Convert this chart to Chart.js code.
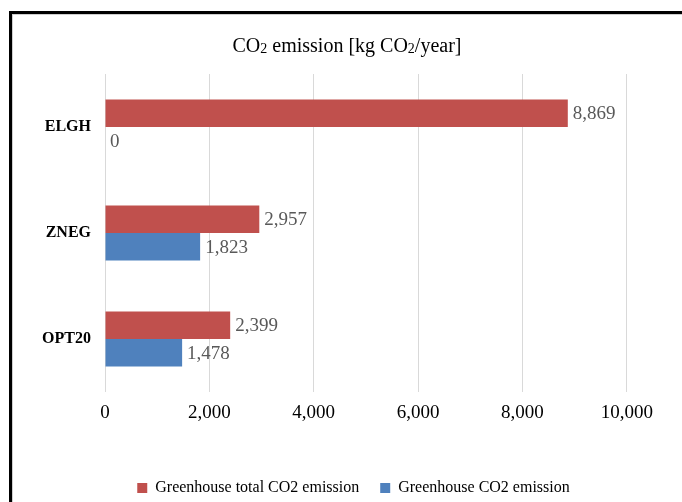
<!DOCTYPE html>
<html>
<head>
<meta charset="utf-8">
<script src="https://cdn.jsdelivr.net/npm/chart.js@4.4.1/dist/chart.umd.min.js"></script>
<style>
  html, body { margin: 0; padding: 0; background: #fff; }
  #wrap { position: relative; width: 682px; height: 502px; overflow: hidden; }
  #chart { position: absolute; left: 0; top: 0; }
  #frame {
    position: absolute; left: 9px; top: 11px; width: 700px; height: 520px;
    border-top: 3px solid #000; border-left: 3px solid #000;
    box-shadow: inset 1px 1px 0 #cfcfcf; pointer-events: none;
  }
</style>
</head>
<body>
<div id="wrap">
  <canvas id="chart" width="682" height="502"></canvas>
  <div id="frame"></div>
</div>
<script>
// categorias e series
var categorias = ['ELGH', 'ZNEG', 'OPT20'];
var totalCO2 = [8869, 2957, 2399];
var greenhouseCO2 = [0, 1823, 1478];
var nomesSeries = ['Greenhouse total CO2 emission', 'Greenhouse CO2 emission'];
var ticksX = [0, 2000, 4000, 6000, 8000, 10000];
// titulo em partes: [texto, subscrito?]
var tituloPartes = [['CO', false], ['2', true], [' emission [kg CO', false], ['2', true], ['/year]', false]];

var fonte = "'Liberation Serif', 'Times New Roman', serif";

// escreve o valor no fim de cada barra
var rotulos = {
  id: 'rotulos',
  afterDatasetsDraw: function (chart) {
    var ctx = chart.ctx;
    ctx.save();
    ctx.font = '19px ' + fonte;
    ctx.fillStyle = '#595959';
    ctx.textAlign = 'left';
    ctx.textBaseline = 'middle';
    chart.data.datasets.forEach(function (ds, i) {
      chart.getDatasetMeta(i).data.forEach(function (bar, j) {
        ctx.fillText(ds.data[j].toLocaleString('en-US'), bar.x + 5, bar.y + 1);
      });
    });
    ctx.restore();
  }
};

// titulo com o "2" menor, como no original
var titulo = {
  id: 'titulo',
  afterDraw: function (chart) {
    var ctx = chart.ctx;
    ctx.save();
    ctx.fillStyle = '#000';
    ctx.textBaseline = 'alphabetic';
    ctx.textAlign = 'left';
    var fNormal = '20px ' + fonte, fSub = '14px ' + fonte;
    var largura = 0;
    tituloPartes.forEach(function (p) {
      ctx.font = p[1] ? fSub : fNormal;
      largura += ctx.measureText(p[0]).width;
    });
    var x = 347 - largura / 2, y = 52;
    tituloPartes.forEach(function (p) {
      ctx.font = p[1] ? fSub : fNormal;
      ctx.fillText(p[0], x, p[1] ? y + 1 : y);
      x += ctx.measureText(p[0]).width;
    });
    ctx.restore();
  }
};

var ctx = document.getElementById('chart').getContext('2d');
new Chart(ctx, {
  type: 'bar',
  data: {
    labels: categorias,
    datasets: [{
      label: nomesSeries[0],
      data: totalCO2,
      backgroundColor: '#C0504D',
      borderWidth: 0,
      categoryPercentage: 0.52,
      barPercentage: 1
    }, {
      label: nomesSeries[1],
      data: greenhouseCO2,
      backgroundColor: '#4F81BD',
      borderWidth: 0,
      categoryPercentage: 0.52,
      barPercentage: 1
    }]
  },
  options: {
    indexAxis: 'y',
    responsive: false,
    animation: false,
    layout: { padding: { left: 28, right: 3, top: 74, bottom: -4 } },
    plugins: {
      title: { display: false },
      legend: {
        position: 'bottom',
        labels: {
          color: '#000',
          font: { family: fonte, size: 16 },
          boxWidth: 10,
          boxHeight: 10,
          padding: 21
        }
      },
      tooltip: { enabled: false }
    },
    scales: {
      x: {
        min: 0,
        max: 11000,
        afterBuildTicks: function (axis) {
          axis.ticks = ticksX.map(function (v) { return { value: v }; });
        },
        afterFit: function (axis) { axis.height = 67; },
        grid: { color: '#d9d9d9', drawTicks: false },
        border: { display: false },
        ticks: {
          color: '#000',
          padding: 10,
          font: { family: fonte, size: 19 },
          callback: function (v) { return Number(v).toLocaleString('en-US'); }
        }
      },
      y: {
        afterFit: function (axis) { axis.width = 77; },
        grid: { display: false, drawTicks: false },
        border: { display: false },
        ticks: {
          color: '#000',
          padding: 14,
          font: { family: fonte, size: 16, weight: 'bold' }
        }
      }
    }
  },
  plugins: [rotulos, titulo]
});
</script>
</body>
</html>
